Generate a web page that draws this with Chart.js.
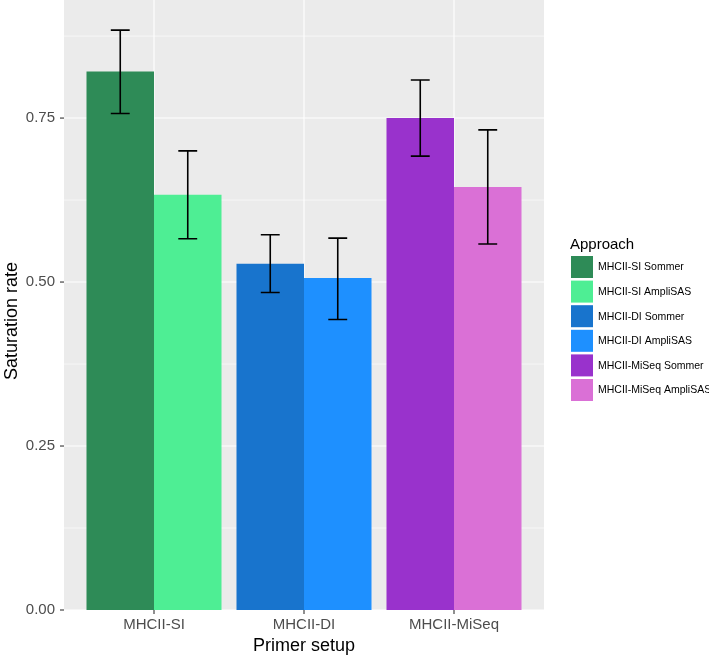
<!DOCTYPE html>
<html>
<head>
<meta charset="utf-8">
<script src="https://cdn.jsdelivr.net/npm/chart.js@4"></script>
<style>
  body { margin: 0; background: #fff; }
  #wrap { width: 709px; height: 660px; }
</style>
</head>
<body>
<div id="wrap"><canvas id="chart" width="709" height="660"></canvas></div>
<script>
const categories = ['MHCII-SI', 'MHCII-DI', 'MHCII-MiSeq'];
const approaches = ['Sommer', 'AmpliSAS'];

const sommerRate = [0.821, 0.528, 0.750];
const sommerLow = [0.757, 0.484, 0.692];
const sommerHigh = [0.884, 0.572, 0.808];

const amplisasRate = [0.633, 0.506, 0.645];
const amplisasLow = [0.566, 0.443, 0.558];
const amplisasHigh = [0.700, 0.567, 0.732];

const sommerColors = ['#2E8B57', '#1874CD', '#9932CC'];
const amplisasColors = ['#4EEE94', '#1E90FF', '#DA70D6'];

const yTicks = [0, 0.25, 0.5, 0.75];
const yMinor = [0.125, 0.375, 0.625, 0.875];

const FONT = '"Liberation Sans", Arial, sans-serif';

// one dataset per category/approach so the legend gets 6 keys,
// stacked by approach so each category only has 2 bar slots
const datasets = [];
categories.forEach((cat, i) => {
  approaches.forEach(appr => {
    const isS = appr === 'Sommer';
    const val = isS ? sommerRate[i] : amplisasRate[i];
    datasets.push({
      label: cat + ' ' + appr,
      data: categories.map((c, j) => (j === i ? val : null)),
      stack: appr,
      backgroundColor: isS ? sommerColors[i] : amplisasColors[i],
      borderWidth: 0,
      catIndex: i,
      errLow: isS ? sommerLow[i] : amplisasLow[i],
      errHigh: isS ? sommerHigh[i] : amplisasHigh[i],
    });
  });
});

// grey panel + white grid, extended 0.1 category beyond the chart area (ggplot expansion)
const panelPlugin = {
  id: 'panel',
  beforeDraw(chart) {
    const { ctx, chartArea, scales } = chart;
    const x = scales.x, y = scales.y;
    const step = x.getPixelForValue(1) - x.getPixelForValue(0);
    const left = chartArea.left - step * 0.1;
    const right = chartArea.right + step * 0.1;
    const top = chartArea.top, bottom = chartArea.bottom;
    ctx.save();
    ctx.fillStyle = '#fff';
    ctx.fillRect(0, 0, chart.width, chart.height);
    ctx.fillStyle = '#EBEBEB';
    ctx.fillRect(left, top, right - left, bottom - top);
    ctx.strokeStyle = '#fff';
    ctx.lineWidth = 0.6;
    yMinor.forEach(v => {
      const py = y.getPixelForValue(v);
      ctx.beginPath(); ctx.moveTo(left, py); ctx.lineTo(right, py); ctx.stroke();
    });
    ctx.lineWidth = 1.1;
    yTicks.forEach(v => {
      const py = y.getPixelForValue(v);
      ctx.beginPath(); ctx.moveTo(left, py); ctx.lineTo(right, py); ctx.stroke();
    });
    categories.forEach((c, i) => {
      const px = x.getPixelForValue(i);
      ctx.beginPath(); ctx.moveTo(px, top); ctx.lineTo(px, bottom); ctx.stroke();
    });
    // tick marks
    ctx.strokeStyle = '#333';
    ctx.lineWidth = 1.1;
    yTicks.forEach(v => {
      const py = y.getPixelForValue(v);
      ctx.beginPath(); ctx.moveTo(left - 4, py); ctx.lineTo(left, py); ctx.stroke();
    });
    categories.forEach((c, i) => {
      const px = x.getPixelForValue(i);
      ctx.beginPath(); ctx.moveTo(px, bottom); ctx.lineTo(px, bottom + 4); ctx.stroke();
    });
    // y axis title (ggplot puts it a bit lower than the panel centre here)
    ctx.translate(16.5, 321);
    ctx.rotate(-Math.PI / 2);
    ctx.fillStyle = '#000';
    ctx.font = '18px ' + FONT;
    ctx.textAlign = 'center';
    ctx.textBaseline = 'alphabetic';
    ctx.fillText('Saturation rate', 0, 0);
    ctx.restore();
  }
};

const errorBarPlugin = {
  id: 'errorBars',
  afterDatasetsDraw(chart) {
    const { ctx, scales } = chart;
    ctx.save();
    ctx.strokeStyle = '#000';
    ctx.lineWidth = 1.6;
    chart.data.datasets.forEach((ds, d) => {
      const bar = chart.getDatasetMeta(d).data[ds.catIndex];
      if (!bar) return;
      const yLo = scales.y.getPixelForValue(ds.errLow);
      const yHi = scales.y.getPixelForValue(ds.errHigh);
      const hw = bar.width * 0.14;
      ctx.beginPath();
      ctx.moveTo(bar.x, yLo); ctx.lineTo(bar.x, yHi);
      ctx.moveTo(bar.x - hw, yLo); ctx.lineTo(bar.x + hw, yLo);
      ctx.moveTo(bar.x - hw, yHi); ctx.lineTo(bar.x + hw, yHi);
      ctx.stroke();
    });
    ctx.restore();
  }
};

const legendPlugin = {
  id: 'approachLegend',
  afterDraw(chart) {
    const { ctx } = chart;
    const x0 = 571, y0 = 256, key = 22, gap = 24.6;
    ctx.save();
    ctx.fillStyle = '#000';
    ctx.font = '15px ' + FONT;
    ctx.textBaseline = 'alphabetic';
    ctx.fillText('Approach', x0 - 1, 249);
    ctx.font = '10.5px ' + FONT;
    ctx.textBaseline = 'middle';
    chart.data.datasets.forEach((ds, i) => {
      const ky = y0 + i * gap;
      ctx.fillStyle = ds.backgroundColor;
      ctx.fillRect(x0, ky, key, key);
      ctx.fillStyle = '#000';
      ctx.fillText(ds.label, x0 + 27, ky + key / 2 + 0.5);
    });
    ctx.restore();
  }
};

new Chart(document.getElementById('chart'), {
  type: 'bar',
  data: { labels: categories, datasets: datasets },
  options: {
    responsive: false,
    animation: false,
    layout: { autoPadding: false, padding: { left: 0, right: 180, top: 0, bottom: 0 } },
    categoryPercentage: 0.9,
    barPercentage: 1.0,
    plugins: {
      legend: { display: false },
      tooltip: { enabled: false },
    },
    scales: {
      x: {
        stacked: true,
        grid: { display: false, drawTicks: false },
        border: { display: false },
        ticks: { color: '#4D4D4D', font: { family: FONT, size: 15 }, padding: 6, maxRotation: 0 },
        title: { display: true, text: 'Primer setup', color: '#000', font: { family: FONT, size: 18 }, padding: { top: 0, bottom: 3 } },
        afterFit(scale) { scale.height = 50; },
      },
      y: {
        stacked: true,
        min: 0,
        max: 0.93,
        grid: { display: false, drawTicks: false },
        border: { display: false },
        afterBuildTicks(scale) { scale.ticks = yTicks.map(v => ({ value: v })); },
        ticks: {
          color: '#4D4D4D',
          font: { family: FONT, size: 15 },
          padding: 24,
          callback: v => v.toFixed(2),
        },
        title: { display: false },
        afterFit(scale) {
          scale.width = 79;
          scale.paddingTop = 0;
          scale.paddingBottom = 0;
        },
      },
    },
  },
  plugins: [panelPlugin, errorBarPlugin, legendPlugin],
});
</script>
</body>
</html>
